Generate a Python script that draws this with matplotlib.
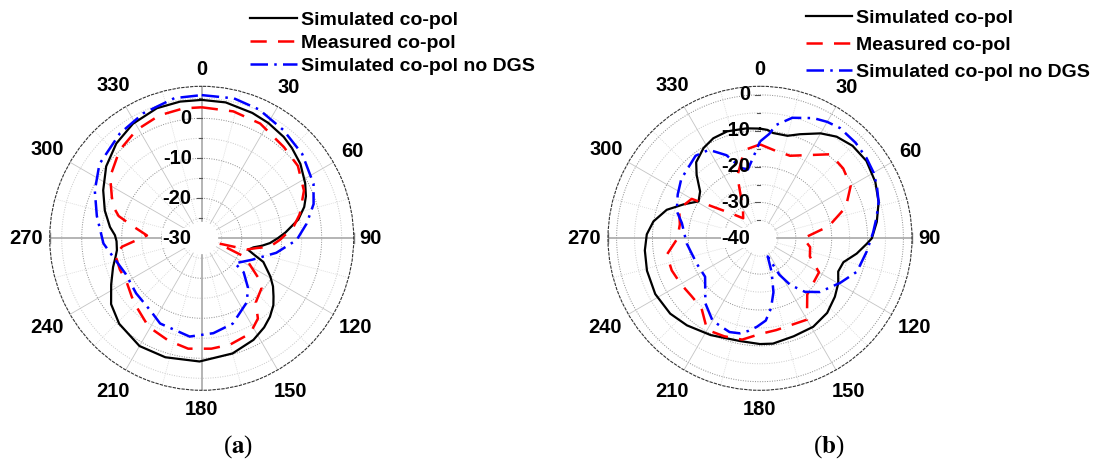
import numpy as np
import matplotlib.pyplot as plt

plt.rcParams['font.family'] = ['Liberation Sans', 'DejaVu Sans']
plt.rcParams['font.weight'] = 'bold'
plt.rcParams['mathtext.fontset'] = 'stix'

# ---- panel (a): angle in degrees, gain in dB ----
a_sim_ang = [0, 10, 22, 30, 39, 45, 53, 62, 68, 73, 79, 86, 90, 94, 97, 100, 104, 107, 111, 119,
             124, 129, 133, 139, 145, 153, 165, 181, 197, 210, 224, 234, 243, 252, 258, 262, 268, 272,
             277, 286, 296, 307, 318, 329, 341, 351]
a_sim_db = [4.6, 4.5, 3.8, 3.3, 2.6, 1.9, 0.9, -0.7, -1.9, -3.2, -5.4, -9.0, -11.0, -12.9, -14.8, -16.9,
            -18.0, -16.5, -13.5, -10.4, -8.5, -6.9, -5.5, -4.0, -2.8, -1.5, -0.2, 0.8, 1.1, 1.1, -0.3,
            -2.0, -4.6, -6.7, -8.0, -8.6, -8.7, -8.3, -6.9, -4.8, -2.6, -0.1, 1.9, 3.4, 4.4, 4.6]

a_mea_ang = [0, 14, 27, 42, 53, 65, 76, 83, 91, 97, 100, 104, 107, 113, 117, 125, 130, 140, 145, 153,
             165, 175, 187, 198, 211, 224, 230, 240, 249, 259, 264, 273, 280, 285, 290, 295, 304, 317,
             329, 341, 352]
a_mea_db = [2.75, 2.7, 2.2, 0.7, 0.1, -1.8, -4.7, -6.9, -10.4, -12.8, -16.0, -18.4, -25.7, -19.2, -17.0,
            -12.7, -10.5, -9.0, -5.5, -3.3, -2.5, -2.3, -2.2, -3.1, -4.2, -6.4, -7.2, -8.3, -8.1, -8.0,
            -10.0, -16.3, -12.5, -8.5, -6.4, -5.2, -2.4, 0.1, 1.6, 2.5, 2.8]

a_nod_ang = [0, 13, 24, 37, 50, 64, 73, 82, 91, 101, 113, 127, 129, 137, 145, 160, 173, 187, 206, 215,
             230, 245, 258, 267, 282, 294, 306, 322, 335, 349]
a_nod_db = [5.8, 5.9, 5.25, 3.9, 2.8, 1.1, -0.75, -3.5, -6.25, -11.0, -16.3, -19.6, -16.5, -13.0, -10.4,
            -7.3, -6.1, -5.25, -6.3, -7.8, -8.6, -9.0, -7.4, -5.4, -3.2, -0.75, 1.6, 3.25, 4.5, 5.7]

# ---- panel (b) ----
b_sim_ang = [0, 4, 7, 15, 21, 30, 37, 45, 54, 64, 73, 82, 90, 93, 99, 106, 113, 120, 128, 138,
             149, 161, 173, 180, 191, 207, 220, 230, 242, 254, 264, 272, 279, 287, 294, 301, 308, 315,
             320, 328, 335, 343, 353]
b_sim_db = [-9.4, -9.7, -10.4, -10.4, -8.9, -6.2, -4.5, -3.5, -3.3, -4.2, -5.4, -7.1, -8.8, -10.2, -12.7,
            -15.8, -16.3, -14.8, -13.5, -12.0, -11.2, -11.1, -10.4, -10.5, -10.8, -9.7, -8.3, -7.3, -6.9,
            -7.2, -7.7, -8.4, -9.9, -12.8, -16.7, -20.0, -18.8, -15.0, -12.3, -10.3, -9.2, -8.8, -9.1]

b_mea_ang = list(range(0, 360, 10))
b_mea_db = [-13.8, -15.2, -15.5, -13.2, -9.4, -9.7, -10.8, -14.5, -20.5, -27.9,
            -25.8, -25.2, -21.0, -20.6, -19.5, -13.8, -14.3, -14.0, -13.3, -11.3,
            -10.9, -10.5, -14.6, -15.0, -14.5, -13.8, -13.6, -17.0, -17.3, -16.0,
            -18.0, -29.0, -32.7, -30.5, -21.5, -15.0]

b_nod_ang = [0, 5, 8, 15, 24, 30, 36, 45, 53, 60, 66, 73, 80, 87, 97, 109, 119, 132, 140, 147,
             152, 157, 161, 166, 171, 176, 182, 187, 192, 198, 205, 210, 220, 235, 248, 266, 281, 288,
             298, 307, 322, 330, 338, 345, 350, 355]
b_nod_db = [-13.0, -10.8, -8.1, -5.2, -3.3, -2.5, -2.0, -2.3, -2.8, -3.4, -4.3, -5.4, -7.0, -8.4, -10.0,
            -11.4, -14.4, -17.6, -20.5, -24.5, -28.5, -34.5, -30.0, -24.5, -20.3, -17.0, -15.3, -14.0,
            -12.9, -12.5, -13.2, -13.5, -16.3, -21.3, -21.0, -19.5, -17.8, -15.6, -14.0, -12.5, -10.8,
            -11.5, -15.0, -19.7, -20.5, -17.5]

labels = ['Simulated co-pol', 'Measured co-pol', 'Simulated co-pol no DGS']
theta_ticks = list(range(0, 360, 30))

W, H = 1094, 467
R = 152.0  # outer radius in pixels
fig = plt.figure(figsize=(W / 100, H / 100), dpi=100)


def closed(ang, db):
    a = np.deg2rad(list(ang) + [ang[0]])
    return a, list(db) + [db[0]]


def panel(cx, cy, rmin, rmax, rticks, vert_axis):
    ax = fig.add_axes([(cx - R) / W, 1 - (cy + R) / H, 2 * R / W, 2 * R / H], projection='polar')
    ax.set_theta_zero_location('N')
    ax.set_theta_direction(-1)
    ax.set_ylim(rmin, rmax)
    ax.set_xticks([])
    ax.set_yticks([])
    ax.grid(False)
    ax.spines['polar'].set_linestyle((0, (2, 2)))
    ax.spines['polar'].set_linewidth(0.8)
    ax.spines['polar'].set_color('#333333')

    ppd = R / (rmax - rmin)
    hole = rmin + 17 / ppd
    th = np.linspace(0, 2 * np.pi, 361)
    for v in np.arange(rmin + 5, rmax, 5):
        major = (v - rmin) % 10 == 0
        ax.plot(th, np.full_like(th, v), color='#8c8c8c' if major else '#c8c8c8',
                lw=0.7, ls=(0, (1, 1.5)), zorder=1)
    for a in range(0, 360, 15):
        if a % 90 == 0:
            continue
        if a % 30 == 0:
            ax.plot([np.deg2rad(a)] * 2, [hole, rmax], color='#c4c4c4', lw=0.6, zorder=1)
        else:
            ax.plot([np.deg2rad(a)] * 2, [hole, rmax], color='#d4d4d4', lw=0.6,
                    ls=(0, (1, 1.5)), zorder=1)
    axis_angles = [90, 270] + ([0, 180] if vert_axis else [])
    for a in axis_angles:
        ax.plot([np.deg2rad(a)] * 2, [hole, rmax], color='#a8a8a8', lw=1.2, zorder=2)
    # end ticks of the horizontal axis
    for sx in (-1, 1):
        x = 0.5 + sx * 0.5
        ax.plot([x, x], [0.5 - 5 / (2 * R), 0.5 + 5 / (2 * R)], transform=ax.transAxes,
                color='#888888', lw=1.0, clip_on=False, zorder=2)

    # radial labels and ticks
    for v in np.arange(rmin + 5, rmax, 5):
        y = 0.5 + (v - rmin) * ppd / (2 * R)
        major = v in rticks
        tl = 5 if major else 3
        ax.plot([0.5 - tl / (2 * R), 0.5], [y, y], transform=ax.transAxes,
                color='#555555', lw=0.8, clip_on=False, zorder=4)
    for v in rticks:
        y = 0.5 + (v - rmin) * ppd / (2 * R)
        bbox = dict(facecolor='white', edgecolor='none', pad=0.5) if v == rmin else None
        ax.text(0.5 - 10 / (2 * R), y, str(v), transform=ax.transAxes, ha='right', va='center',
                fontsize=14.5, fontweight='bold', zorder=6, bbox=bbox)

    # angle labels
    dist = {0: 169, 30: 174, 60: 174, 90: 169, 120: 178, 150: 177, 180: 171,
            210: 177, 240: 179, 270: 176, 300: 178, 330: 176}
    for a in theta_ticks:
        d = dist[a] / (2 * R)
        ax.text(0.5 + d * np.sin(np.deg2rad(a)), 0.5 + d * np.cos(np.deg2rad(a)), str(a),
                transform=ax.transAxes, ha='center', va='center', fontsize=14.5,
                fontweight='bold', clip_on=False)
    return ax


def curves(ax, sim, mea, nod):
    l1, = ax.plot(*closed(*sim), color='black', lw=1.6, zorder=3)
    l2, = ax.plot(*closed(*mea), color='#ff0000', lw=1.8, ls=(0, (6.5, 4.5)), zorder=3)
    l3, = ax.plot(*closed(*nod), color='#0000ff', lw=1.8, ls=(0, (7, 2.5, 1, 2.5)), zorder=3)
    return [l1, l2, l3]


ax1 = panel(201.7, 238.3, -30, 8, [-30, -20, -10, 0], True)
h1 = curves(ax1, (a_sim_ang, a_sim_db), (a_mea_ang, a_mea_db), (a_nod_ang, a_nod_db))
ax1.legend(h1, labels, loc='upper left', bbox_to_anchor=(250 / W, 1 - 11 / H),
           bbox_transform=fig.transFigure, frameon=False, fontsize=14,
           handlelength=2.4, handletextpad=0.2, labelspacing=0.28,
           borderpad=0, borderaxespad=0)

ax2 = panel(760.0, 238.3, -40, 2.4, [-40, -30, -20, -10, 0], False)
h2 = curves(ax2, (b_sim_ang, b_sim_db), (b_mea_ang, b_mea_db), (b_nod_ang, b_nod_db))
ax2.legend(h2, labels, loc='upper left', bbox_to_anchor=(806 / W, 1 - 9 / H),
           bbox_transform=fig.transFigure, frameon=False, fontsize=14,
           handlelength=2.35, handletextpad=0.2, labelspacing=0.5,
           borderpad=0, borderaxespad=0)

fig.text(238 / W, 1 - 447 / H, r'($\mathbf{a}$)', ha='center', va='center', fontsize=18,
         family='Liberation Serif', fontweight='normal')
fig.text(829 / W, 1 - 447 / H, r'($\mathbf{b}$)', ha='center', va='center', fontsize=18,
         family='Liberation Serif', fontweight='normal')

fig.savefig('out.png', dpi=100)
